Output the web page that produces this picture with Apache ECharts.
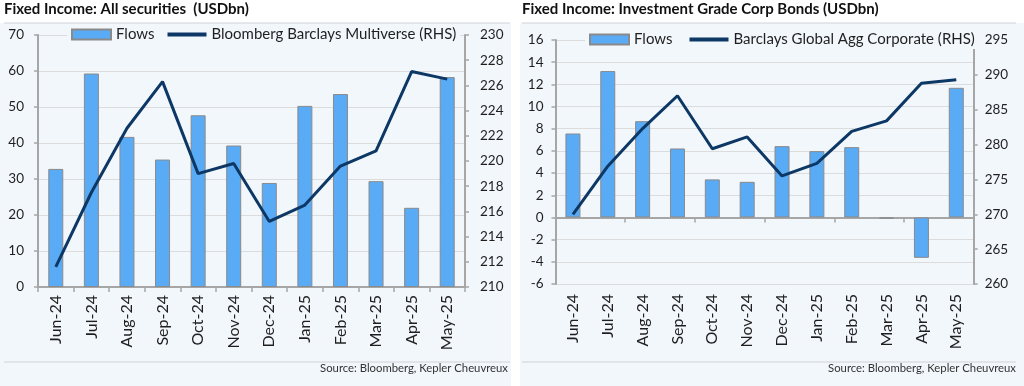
<!DOCTYPE html>
<html>
<head>
<meta charset="utf-8">
<script src="https://cdn.jsdelivr.net/npm/echarts@6/dist/echarts.min.js"></script>
<style>
html,body{margin:0;padding:0;background:#ffffff;}
#c{width:1024px;height:386px;}
</style>
</head>
<body>
<div id="c"></div>
<script>
const categories = ['Jun-24','Jul-24','Aug-24','Sep-24','Oct-24','Nov-24','Dec-24','Jan-25','Feb-25','Mar-25','Apr-25','May-25'];
const allFlows = [32.8, 59.3, 41.7, 35.4, 47.7, 39.3, 28.9, 50.3, 53.6, 29.4, 22.0, 58.3];
const multiverse = [211.6, 217.5, 222.6, 226.3, 219.0, 219.8, 215.2, 216.5, 219.6, 220.8, 227.1, 226.5];
const igFlows = [7.57, 13.2, 8.68, 6.22, 3.43, 3.21, 6.43, 5.98, 6.34, -0.1, -3.64, 11.69];
const globalAggCorp = [270.0, 276.9, 282.3, 287.0, 279.4, 281.1, 275.5, 277.3, 281.9, 283.4, 288.8, 289.3];
const leftTitle = 'Fixed Income: All securities  (USDbn)';
const rightTitle = 'Fixed Income: Investment Grade Corp Bonds (USDbn)';
const leftLineName = 'Bloomberg Barclays Multiverse (RHS)';
const rightLineName = 'Barclays Global Agg Corporate (RHS)';
const sourceText = 'Source: Bloomberg, Kepler Cheuvreux';

const FONT = 'Lato';
const BG = '#f2f7fc';
const BAR = '#5aabf6';
const LINE = '#0d3866';
const AXIS = '#a6a6a6';
const SPLIT = '#dcdcdc';
const TXT = '#1f1f1f';

const chart = echarts.init(document.getElementById('c'), null, {renderer:'canvas'});

function yAxisCfg(grid, min, max, interval, pos, margin, split) {
  return {
    type:'value', gridIndex:grid, min:min, max:max, interval:interval, position:pos,
    axisLine:{show:true, lineStyle:{color:AXIS, width:2}},
    axisTick:{show:true, length:4, lineStyle:{color:AXIS, width:1.5}},
    axisLabel:{color:TXT, fontFamily:FONT, fontSize:13.5, margin:margin},
    splitLine:{show:split, lineStyle:{color:SPLIT, width:1}}
  };
}

const option = {
  animation:false,
  backgroundColor:'#ffffff',
  textStyle:{fontFamily:FONT},
  graphic:[
    {type:'rect', z:-10, shape:{x:0, y:23, width:511, height:363}, style:{fill:BG}},
    {type:'rect', z:-10, shape:{x:520, y:23, width:504, height:363}, style:{fill:BG}},
    {type:'line', z:-5, shape:{x1:4, y1:23, x2:510, y2:23}, style:{stroke:'#cfd3d8', lineWidth:1}},
    {type:'line', z:-5, shape:{x1:522, y1:23, x2:1016, y2:23}, style:{stroke:'#cfd3d8', lineWidth:1}},
    {type:'line', z:-5, shape:{x1:4, y1:362, x2:510, y2:362}, style:{stroke:'#cfd3d8', lineWidth:1}},
    {type:'line', z:-5, shape:{x1:522, y1:362, x2:1016, y2:362}, style:{stroke:'#cfd3d8', lineWidth:1}},
    {type:'text', left:4, top:2, style:{text:leftTitle, font:'bold 15px Lato', fill:'#111'}},
    {type:'text', left:522, top:2, style:{text:rightTitle, font:'bold 15px Lato', fill:'#111'}},
    {type:'text', right:516, top:363, style:{text:sourceText, font:'11.3px Lato', fill:'#333'}},
    {type:'text', right:8, top:363, style:{text:sourceText, font:'11.3px Lato', fill:'#333'}}
  ],
  legend:[
    {left:67, top:25, itemWidth:39, itemHeight:10, itemGap:11, padding:[2,4], backgroundColor:BG,
     data:[{name:'Flows', icon:'rect'}, {name:leftLineName, itemStyle:{opacity:0}, lineStyle:{width:4, color:LINE}}],
     textStyle:{color:TXT, fontFamily:FONT, fontSize:15}, selectedMode:false},
    {left:585, top:30, itemWidth:39, itemHeight:10, itemGap:15, padding:[2,4], backgroundColor:BG,
     data:[{name:'Flows', icon:'rect'}, {name:rightLineName, itemStyle:{opacity:0}, lineStyle:{width:4, color:LINE}}],
     textStyle:{color:TXT, fontFamily:FONT, fontSize:15}, selectedMode:false}
  ],
  grid:[
    {left:38, right:559, top:35, bottom:99},
    {left:555.5, right:50.3, top:40, bottom:102}
  ],
  xAxis:[
    {type:'category', gridIndex:0, data:categories, boundaryGap:true,
     axisLine:{show:true, lineStyle:{color:AXIS, width:2}},
     axisTick:{show:true, length:5, lineStyle:{color:AXIS, width:1.5}},
     axisLabel:{color:TXT, fontFamily:FONT, fontSize:16, rotate:90, margin:8, interval:0}},
    {type:'category', gridIndex:1, data:categories, boundaryGap:true, axisLine:{show:false, onZero:false},
     axisTick:{show:false},
     axisLabel:{color:TXT, fontFamily:FONT, fontSize:16, rotate:90, margin:10, interval:0}},
    {type:'category', gridIndex:1, data:categories, boundaryGap:true, position:'bottom',
     axisLine:{show:true, onZero:true, lineStyle:{color:AXIS, width:2}},
     axisTick:{show:true, length:5, lineStyle:{color:AXIS, width:1.5}},
     axisLabel:{show:false}}
  ],
  yAxis:[
    yAxisCfg(0, 0, 70, 10, 'left', 14, true),
    yAxisCfg(0, 210, 230, 2, 'right', 15, false),
    yAxisCfg(1, -6, 16, 2, 'left', 12, true),
    yAxisCfg(1, 260, 295, 5, 'right', 11, false)
  ],
  series:[
    {name:'Flows', type:'bar', xAxisIndex:0, yAxisIndex:0, data:allFlows, barWidth:15,
     itemStyle:{color:BAR, borderColor:'#8a8a8a', borderWidth:1}},
    {name:leftLineName, type:'line', xAxisIndex:0, yAxisIndex:1, data:multiverse, symbol:'none',
     lineStyle:{color:LINE, width:3}, itemStyle:{color:LINE}, z:5},
    {name:'Flows', type:'bar', xAxisIndex:1, yAxisIndex:2, data:igFlows, barWidth:15,
     itemStyle:{color:BAR, borderColor:'#8a8a8a', borderWidth:1}},
    {name:rightLineName, type:'line', xAxisIndex:1, yAxisIndex:3, data:globalAggCorp, symbol:'none',
     lineStyle:{color:LINE, width:3}, itemStyle:{color:LINE}, z:5}
  ]
};
chart.setOption(option);
</script>
</body>
</html>
